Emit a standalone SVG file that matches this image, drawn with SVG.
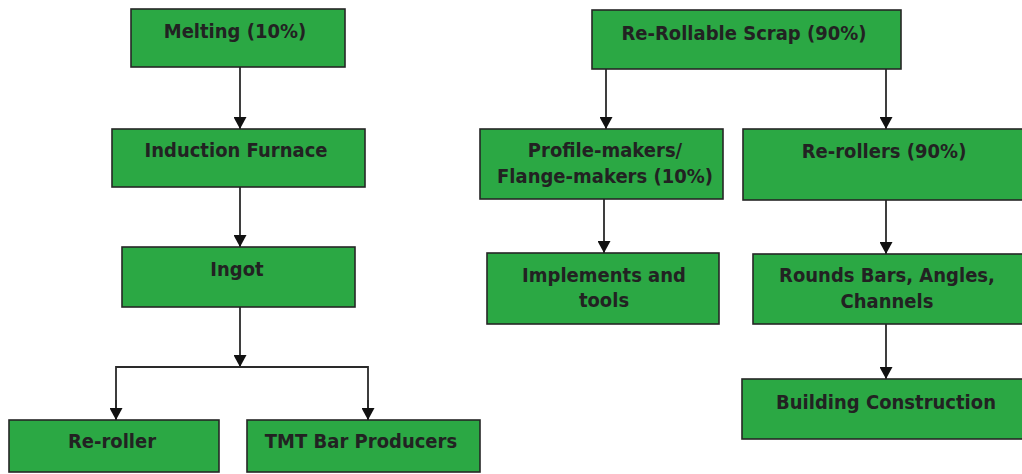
<svg xmlns="http://www.w3.org/2000/svg" width="1022" height="474" viewBox="0 0 1022 474">
  <style>
    .box { fill: #2ba844; stroke: #262626; stroke-width: 1.6; }
    .lbl { font-family: "DejaVu Sans", "Liberation Sans", sans-serif; font-weight: bold; font-size: 18px; fill: #222; text-anchor: middle; }
    .wire { fill: none; stroke: #2a2a2a; stroke-width: 1.8; }
  </style>
  <defs>
    <marker id="head" markerUnits="userSpaceOnUse" markerWidth="12" markerHeight="13" refX="12" refY="6.5" orient="auto">
      <path d="M0,0 L12,6.5 L0,13 Z" fill="#111"/>
    </marker>
  </defs>
  <rect width="1022" height="474" fill="#fff"/>

  <!-- connectors -->
  <g id="connectors">
    <line class="wire" x1="240" y1="67" x2="240" y2="129" marker-end="url(#head)"/>
    <line class="wire" x1="240" y1="187" x2="240" y2="247" marker-end="url(#head)"/>
    <line class="wire" x1="240" y1="307" x2="240" y2="367" marker-end="url(#head)"/>
    <polyline class="wire" points="116,420 116,367 368,367 368,420"/>
    <line class="wire" x1="116" y1="400" x2="116" y2="420" marker-end="url(#head)"/>
    <line class="wire" x1="368" y1="400" x2="368" y2="420" marker-end="url(#head)"/>
    <line class="wire" x1="606" y1="69" x2="606" y2="129" marker-end="url(#head)"/>
    <line class="wire" x1="886" y1="69" x2="886" y2="129" marker-end="url(#head)"/>
    <line class="wire" x1="604" y1="199" x2="604" y2="253" marker-end="url(#head)"/>
    <line class="wire" x1="886" y1="200" x2="886" y2="254" marker-end="url(#head)"/>
    <line class="wire" x1="886" y1="324" x2="886" y2="379" marker-end="url(#head)"/>
  </g>

  <!-- left branch: melting route (labels drawn slightly tall) -->
  <g id="melting">
    <rect class="box" x="131" y="9" width="214" height="58"/>
    <text class="lbl" transform="translate(235,38) scale(1,1.12)">Melting (10%)</text>
  </g>
  <g id="induction-furnace">
    <rect class="box" x="112" y="129" width="253" height="58"/>
    <text class="lbl" transform="translate(236,157) scale(1,1.12)">Induction Furnace</text>
  </g>
  <g id="ingot">
    <rect class="box" x="122" y="247" width="233" height="60"/>
    <text class="lbl" transform="translate(237,276) scale(1,1.12)">Ingot</text>
  </g>
  <g id="re-roller">
    <rect class="box" x="9" y="420" width="210" height="52"/>
    <text class="lbl" transform="translate(112,448) scale(1,1.12)">Re-roller</text>
  </g>
  <g id="tmt-bar-producers">
    <rect class="box" x="247" y="420" width="233" height="52"/>
    <text class="lbl" transform="translate(361,448) scale(1,1.12)">TMT Bar Producers</text>
  </g>

  <!-- right branch: re-rollable scrap route -->
  <g id="re-rollable-scrap">
    <rect class="box" x="592" y="10" width="309" height="59"/>
    <text class="lbl" transform="translate(744,40) scale(1,1.12)">Re-Rollable Scrap (90%)</text>
  </g>
  <g id="profile-makers">
    <rect class="box" x="480" y="129" width="243" height="70"/>
    <text class="lbl" transform="translate(605,157) scale(1,1.12)">Profile-makers/</text>
    <text class="lbl" transform="translate(605,183) scale(1,1.12)">Flange-makers (10%)</text>
  </g>
  <g id="re-rollers">
    <rect class="box" x="743" y="129" width="290" height="71"/>
    <text class="lbl" transform="translate(884,158) scale(1,1.12)">Re-rollers (90%)</text>
  </g>
  <g id="implements-and-tools">
    <rect class="box" x="487" y="253" width="232" height="71"/>
    <text class="lbl" transform="translate(604,282) scale(1,1.12)">Implements and</text>
    <text class="lbl" transform="translate(604,307) scale(1,1.12)">tools</text>
  </g>
  <g id="rounds-bars">
    <rect class="box" x="753" y="254" width="280" height="70"/>
    <text class="lbl" transform="translate(887,282) scale(1,1.12)">Rounds Bars, Angles,</text>
    <text class="lbl" transform="translate(887,308) scale(1,1.12)">Channels</text>
  </g>
  <g id="building-construction">
    <rect class="box" x="742" y="379" width="291" height="60"/>
    <text class="lbl" transform="translate(886,409) scale(1,1.12)">Building Construction</text>
  </g>
</svg>
